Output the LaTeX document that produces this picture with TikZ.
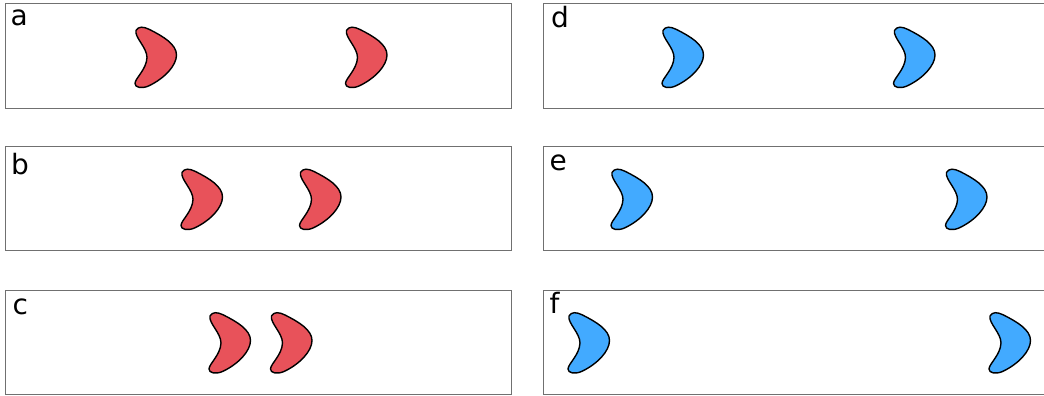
\documentclass[tikz,border=0pt]{standalone}
\usepackage{fontspec}
\setsansfont{DejaVu Sans}
\usepackage{tikz}
\usetikzlibrary{positioning}

\definecolor{shapered}{HTML}{E8525A}
\definecolor{shapeblue}{HTML}{42AAFF}
\definecolor{framegray}{HTML}{707070}

\begin{document}
\begin{tikzpicture}[
  x=1pt, y=-1pt,
  panel/.style={draw=framegray, line width=1pt},
  panellabel/.style={anchor=base west, inner sep=0pt, font=\sffamily\fontsize{28}{30}\selectfont},
  boomerang/.pic={
    \path[draw=black, line width=1.4pt, fill=#1]
      (-19.5,-27) .. controls (-17,-31.5) and (-12,-31) .. (-6,-28)
      .. controls (8,-21) and (21,-13) .. (21,-2.5)
      .. controls (21,8) and (9,21) .. (-7,28.5)
      .. controls (-14,31.5) and (-20.5,30) .. (-20.5,26)
      .. controls (-20.5,21) and (-9,12) .. (-8.5,0)
      .. controls (-8.5,-10) and (-21,-20) .. (-19.5,-27) -- cycle;
  }
]
\useasboundingbox (0,0) rectangle (1044,396);
\clip (0,0) rectangle (1044,396);

% Panel frames
\draw[panel] (5.5,4) rectangle (511,108);
\draw[panel] (5.5,146.5) rectangle (511,250.5);
\draw[panel] (5.5,290) rectangle (511,394);
\draw[panel] (543.5,4) rectangle (1060,108);
\draw[panel] (543.5,146.5) rectangle (1060,250.5);
\draw[panel] (543.5,290) rectangle (1060,394);

% Panel letters
\node[panellabel] (la) at (10.5,26)    {a};
\node[panellabel] (lb) at (11,174)     {b};
\node[panellabel] (lc) at (12.5,314)   {c};
\node[panellabel] (ld) at (551,28)     {d};
\node[panellabel] (le) at (549.5,170.5) {e};
\node[panellabel] (lf) at (549.5,313)  {f};

% Red pairs, closing in
\pic at (155.5,57.5) {boomerang=shapered};
\pic at (366,57.5)   {boomerang=shapered};
\pic at (201.5,199.5) {boomerang=shapered};
\pic at (320,199.5)   {boomerang=shapered};
\pic at (229.5,343) {boomerang=shapered};
\pic at (291,343)   {boomerang=shapered};

% Blue pairs, drifting apart
\pic at (682.5,57.5) {boomerang=shapeblue};
\pic at (914,57.5)   {boomerang=shapeblue};
\pic at (631.5,199.5) {boomerang=shapeblue};
\pic at (966,199.5)   {boomerang=shapeblue};
\pic at (588.5,343) {boomerang=shapeblue};
\pic at (1009.5,343) {boomerang=shapeblue};

\end{tikzpicture}
\end{document}
